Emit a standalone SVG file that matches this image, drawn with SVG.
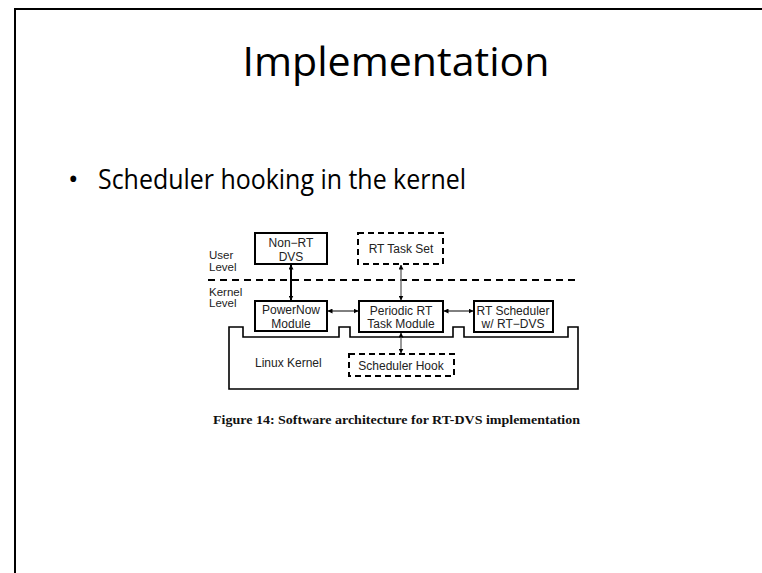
<svg xmlns="http://www.w3.org/2000/svg" width="762" height="573" viewBox="0 0 762 573">
<style>
.slide{font-family:"Open Sans","Noto Sans",sans-serif;fill:#000}
.lbl{font-family:"Liberation Sans",Arial,sans-serif;font-size:11.5px;fill:#222}
.bt{font-family:"Liberation Sans",Arial,sans-serif;font-size:12px;fill:#222;text-anchor:middle}
.box{fill:#fff;stroke:#000;stroke-width:2}
.dbox{fill:#fff;stroke:#000;stroke-width:2;stroke-dasharray:6,4}
.cap{font-family:"Liberation Serif","Times New Roman",serif;font-weight:bold;font-size:12.5px;fill:#111}
</style>
<defs>
<marker id="ah" viewBox="0 0 10 10" refX="9" refY="5" markerWidth="5" markerHeight="5" orient="auto-start-reverse" markerUnits="userSpaceOnUse">
<path d="M0,0 L10,5 L0,10 Z" fill="#000"/>
</marker>
</defs>
<rect width="762" height="573" fill="#fff"/>
<path d="M15,573 V9 H762" fill="none" stroke="#000" stroke-width="2"/>
<text class="slide" x="396" y="76" font-size="40" text-anchor="middle" textLength="307" lengthAdjust="spacingAndGlyphs">Implementation</text>
<text class="slide" x="68" y="189" font-size="28">•</text>
<text class="slide" x="98" y="189" font-size="28" textLength="368" lengthAdjust="spacingAndGlyphs">Scheduler hooking in the kernel</text>

<g id="labels">
<text class="lbl" x="209" y="259">User</text>
<text class="lbl" x="209" y="270.5">Level</text>
<text class="lbl" x="209" y="295.5">Kernel</text>
<text class="lbl" x="209" y="307">Level</text>
</g>
<line x1="208" y1="280" x2="578" y2="280" stroke="#000" stroke-width="2" stroke-dasharray="7,5"/>

<g id="linux-kernel">
<path d="M229,389 V327 H243 V337 H339 V327 H350 V337 H453 V327 H464 V337 H568 V327 H578 V389 Z" fill="#fff" stroke="#000" stroke-width="1.6"/>
<text class="lbl" x="255" y="367" style="font-size:12px">Linux Kernel</text>
</g>

<g id="non-rt-dvs">
<rect class="box" x="255" y="233" width="72" height="31"/>
<text class="bt" x="291" y="247">Non−RT</text>
<text class="bt" x="291" y="261">DVS</text>
</g>
<g id="rt-task-set">
<rect class="dbox" x="358" y="233" width="85" height="31"/>
<text class="bt" x="401" y="253">RT Task Set</text>
</g>
<g id="powernow">
<rect class="box" x="255" y="301" width="72" height="30"/>
<text class="bt" x="291" y="314">PowerNow</text>
<text class="bt" x="291" y="327.5">Module</text>
</g>
<g id="periodic-rt">
<rect class="box" x="359" y="301" width="84" height="31"/>
<text class="bt" x="401" y="314.5">Periodic RT</text>
<text class="bt" x="401" y="328">Task Module</text>
</g>
<g id="rt-scheduler">
<rect class="box" x="474" y="301" width="79" height="31"/>
<text class="bt" x="513" y="314.5">RT Scheduler</text>
<text class="bt" x="513" y="328">w/ RT−DVS</text>
</g>
<g id="scheduler-hook">
<rect class="dbox" x="349" y="354" width="105" height="22"/>
<text class="bt" x="401" y="370">Scheduler Hook</text>
</g>

<g id="connectors">
<line x1="291" y1="265" x2="291" y2="300" stroke="#000" stroke-width="2" marker-start="url(#ah)" marker-end="url(#ah)"/>
<line x1="401" y1="265" x2="401" y2="300" stroke="#777" stroke-width="1.5" marker-start="url(#ah)" marker-end="url(#ah)"/>
<line x1="401" y1="333" x2="401" y2="353" stroke="#777" stroke-width="1.5" marker-start="url(#ah)" marker-end="url(#ah)"/>
<line x1="328" y1="311" x2="358" y2="311" stroke="#000" stroke-width="1" marker-start="url(#ah)" marker-end="url(#ah)"/>
<line x1="444" y1="311" x2="473" y2="311" stroke="#000" stroke-width="1" marker-start="url(#ah)" marker-end="url(#ah)"/>
</g>

<text class="cap" x="213" y="424" textLength="367" lengthAdjust="spacingAndGlyphs">Figure 14: Software architecture for RT-DVS implementation</text>
</svg>
